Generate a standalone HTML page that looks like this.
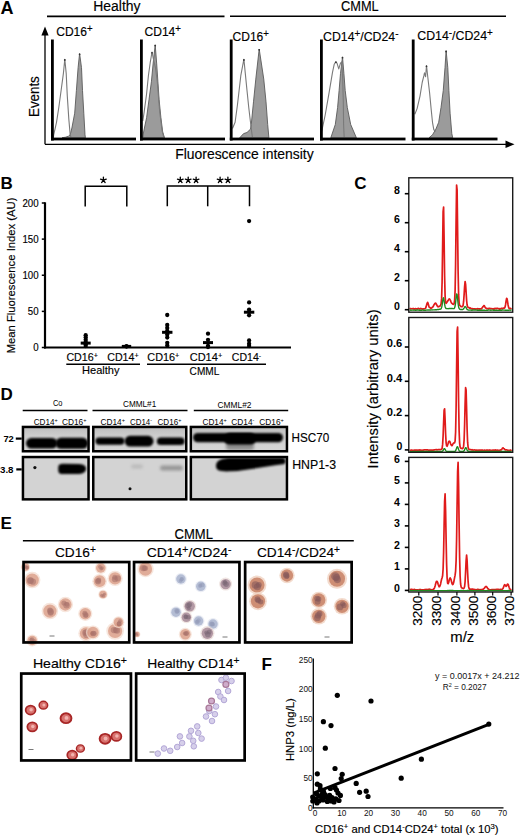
<!DOCTYPE html>
<html><head><meta charset="utf-8"><style>
html,body{margin:0;padding:0;background:#fff;width:520px;height:837px;overflow:hidden}
svg{display:block;font-family:"Liberation Sans", sans-serif}
svg text{stroke:#000;stroke-width:0.15px}
svg text.s{stroke:none}
</style></head><body>
<svg width="520" height="837" viewBox="0 0 520 837">
<defs>
<linearGradient id="gH" x1="0" y1="0" x2="0" y2="1"><stop offset="0" stop-color="#bdbdbd"/><stop offset="0.35" stop-color="#cdcdcd"/><stop offset="1" stop-color="#d6d6d6"/></linearGradient>
<filter id="b0" x="-50%" y="-50%" width="200%" height="200%"><feGaussianBlur stdDeviation="0.45"/></filter>
<filter id="b1" x="-20%" y="-50%" width="140%" height="200%"><feGaussianBlur stdDeviation="0.9"/></filter>
<filter id="b2" x="-20%" y="-50%" width="140%" height="200%"><feGaussianBlur stdDeviation="1.8"/></filter>
<radialGradient id="gC"><stop offset="0" stop-color="#9a6252"/><stop offset="0.45" stop-color="#bd806a"/><stop offset="0.8" stop-color="#dcaa90"/><stop offset="1" stop-color="#f2d8c8" stop-opacity="0.3"/></radialGradient>
<radialGradient id="gBl"><stop offset="0" stop-color="#8d98bb"/><stop offset="0.7" stop-color="#aab4cf"/><stop offset="1" stop-color="#d8dde9" stop-opacity="0.3"/></radialGradient>
<radialGradient id="gP"><stop offset="0" stop-color="#6e5a72"/><stop offset="0.6" stop-color="#95788a"/><stop offset="1" stop-color="#c8a898" stop-opacity="0.4"/></radialGradient>
<radialGradient id="gR"><stop offset="0" stop-color="#e8a0a0"/><stop offset="0.55" stop-color="#d06060"/><stop offset="0.85" stop-color="#b02a2a"/><stop offset="1" stop-color="#c04040" stop-opacity="0.4"/></radialGradient>
<radialGradient id="gL"><stop offset="0" stop-color="#d4cce8"/><stop offset="0.7" stop-color="#bcb0dc"/><stop offset="1" stop-color="#d8d0ec" stop-opacity="0.3"/></radialGradient>
<radialGradient id="gM"><stop offset="0" stop-color="#b06890"/><stop offset="0.7" stop-color="#a05880"/><stop offset="1" stop-color="#c8a0c0" stop-opacity="0.3"/></radialGradient>
</defs>
<text x="0.4" y="13.8" font-size="18" font-weight="bold" class="s" text-anchor="start" fill="#000" >A</text>
<text x="93.2" y="11" font-size="14" text-anchor="start" fill="#000" textLength="47.3" lengthAdjust="spacingAndGlyphs" >Healthy</text>
<line x1="47" y1="16.4" x2="224.5" y2="16.4" stroke="#000" stroke-width="1.6" />
<line x1="230" y1="16.2" x2="506" y2="16.2" stroke="#000" stroke-width="1.6" />
<text x="341" y="10.6" font-size="14" text-anchor="start" fill="#000" textLength="37.7" lengthAdjust="spacingAndGlyphs" >CMML</text>
<line x1="45" y1="34" x2="45" y2="144.3" stroke="#000" stroke-width="1.3" />
<polygon points="41.4,35.5 48.6,35.5 45,26.6" fill="#000"/>
<line x1="45" y1="144.3" x2="507" y2="144.3" stroke="#000" stroke-width="1.3" />
<polygon points="505.5,140.6 505.5,148 514.5,144.3" fill="#000"/>
<text transform="translate(39.3,117) rotate(-90)" x="0" y="0" font-size="14" text-anchor="start" fill="#000" textLength="40.8" lengthAdjust="spacingAndGlyphs" >Events</text>
<text x="175.2" y="159.3" font-size="14" text-anchor="start" fill="#000" textLength="138.5" lengthAdjust="spacingAndGlyphs" >Fluorescence intensity</text>
<path d="M62,137.8 65.6,137.2 68.5,136.2 70.2,134.8 71.9,128 74.7,113.2 76.4,90.5 78.1,67.7 79.6,53.5 81.5,67.7 82.5,90.5 83.8,113.2 85,134.8 85.4,137.8 Z" fill="#9b9b9b" stroke="#5a5a5a" stroke-width="0.9" stroke-linejoin="round"/>
<path d="M53.4,137.8 53.7,134.8 56.5,122.3 58.8,107.5 61.1,90.5 63.4,73.4 64.8,59.2 66.2,73.4 67.3,96.1 68.8,118.9 70.2,134.8 71.2,137.8" fill="none" stroke="#7a7a7a" stroke-width="1.1" stroke-linejoin="round"/>
<circle cx="79.6" cy="54.3" r="0.9" fill="#333" />
<circle cx="64.8" cy="60" r="0.9" fill="#333" />
<rect x="51" y="39.5" width="2.8" height="101" fill="#000" stroke="none" stroke-width="0" />
<rect x="51" y="137.6" width="85" height="2.8" fill="#000" stroke="none" stroke-width="0" />
<text x="56.2" y="35.6" font-size="12.5" textLength="36.4" lengthAdjust="spacingAndGlyphs">CD16<tspan font-size="10" baseline-shift="4.2">+</tspan></text>
<path d="M142.8,137.8 143.6,132 146.6,117.7 149,99.7 151.4,81.8 153.1,63.9 155.2,44.8 156.7,63.9 157.9,81.8 159.1,99.7 160.9,117.7 162.7,132 164.5,137.8 Z" fill="#9b9b9b" stroke="#5a5a5a" stroke-width="0.9" stroke-linejoin="round"/>
<path d="M142.8,121 144.2,111.7 146.6,93.8 148.4,75.8 150.2,62.7 151,58 152,52 153.7,60.3 155.5,68 157.3,81.8 159.7,111.7 162.1,130.8 164,137.8" fill="none" stroke="#7a7a7a" stroke-width="1.1" stroke-linejoin="round"/>
<circle cx="155.2" cy="45.6" r="0.9" fill="#333" />
<circle cx="152" cy="52.8" r="0.9" fill="#333" />
<rect x="140" y="39.5" width="2.8" height="101" fill="#000" stroke="none" stroke-width="0" />
<rect x="140" y="137.6" width="85" height="2.8" fill="#000" stroke="none" stroke-width="0" />
<text x="144.5" y="36" font-size="12.5" textLength="36.4" lengthAdjust="spacingAndGlyphs">CD14<tspan font-size="10" baseline-shift="4.2">+</tspan></text>
<path d="M239.7,137.8 243.6,133.6 247,132.5 250.5,129.1 251.25,124.5 253.5,101.8 255.8,79.1 259.2,49 263.75,79.1 266,101.8 267.7,124.5 268.9,137.8 Z" fill="#9b9b9b" stroke="#5a5a5a" stroke-width="0.9" stroke-linejoin="round"/>
<path d="M232.5,128.5 235.1,122.3 237.4,105.2 239.1,90.5 240.8,75.7 243.9,59.2 245.3,73.4 247,90.5 248.75,107.5 250.5,122.3 251.6,131.4 252.5,137.8" fill="none" stroke="#7a7a7a" stroke-width="1.1" stroke-linejoin="round"/>
<circle cx="259.2" cy="49.8" r="0.9" fill="#333" />
<circle cx="243.9" cy="60" r="0.9" fill="#333" />
<rect x="229.8" y="39.5" width="2.8" height="101" fill="#000" stroke="none" stroke-width="0" />
<rect x="229.8" y="137.6" width="84.2" height="2.8" fill="#000" stroke="none" stroke-width="0" />
<text x="232.5" y="40.6" font-size="12.5" textLength="36.4" lengthAdjust="spacingAndGlyphs">CD16<tspan font-size="10" baseline-shift="4.2">+</tspan></text>
<path d="M330.8,137.8 335.3,124.5 337.6,107.5 339.1,90.5 340.5,73.4 342.5,56.9 343.9,73.4 345.2,90.5 347.3,107.5 350.7,124.5 356.4,137.8 Z" fill="#9b9b9b" stroke="#5a5a5a" stroke-width="0.9" stroke-linejoin="round"/>
<path d="M321.7,131.4 325.1,115.5 329.1,92.7 332.5,72.3 334.2,64.3 335.9,61.5 337,63.2 338.75,68.9 340.5,63.2 341.8,62 342.7,79.1 343.3,101.8 343.6,124.5 344.1,136 344.3,137.8" fill="none" stroke="#7a7a7a" stroke-width="1.1" stroke-linejoin="round"/>
<circle cx="342.5" cy="57.7" r="0.9" fill="#333" />
<circle cx="335.9" cy="62.3" r="0.9" fill="#333" />
<rect x="320" y="39.5" width="2.8" height="101" fill="#000" stroke="none" stroke-width="0" />
<rect x="320" y="137.6" width="85.5" height="2.8" fill="#000" stroke="none" stroke-width="0" />
<text x="323" y="40.6" font-size="12.5" textLength="75.5" lengthAdjust="spacingAndGlyphs">CD14<tspan font-size="10" baseline-shift="4.2">+</tspan>/CD24<tspan font-size="10" baseline-shift="4.2">-</tspan></text>
<path d="M429,137.8 432.5,134.8 435.9,129.1 438.7,122.3 441,107.5 443.25,90.5 445,67.7 446.1,50.7 447.8,67.7 448.9,90.5 450.1,113.2 451.8,133.6 452.7,137.8 Z" fill="#9b9b9b" stroke="#5a5a5a" stroke-width="0.9" stroke-linejoin="round"/>
<path d="M414.8,114.3 417.1,108.6 420,96.1 422.2,82.5 423.9,75.7 424.5,72.8 425.6,76.8 426.5,65.5 427.9,78 429.6,92.7 431.1,108.6 432.5,122.3 433.8,129.7 435.9,131.4" fill="none" stroke="#7a7a7a" stroke-width="1.1" stroke-linejoin="round"/>
<circle cx="446.1" cy="51.5" r="0.9" fill="#333" />
<circle cx="426.5" cy="66.3" r="0.9" fill="#333" />
<rect x="411.8" y="39.5" width="2.8" height="101" fill="#000" stroke="none" stroke-width="0" />
<rect x="411.8" y="137.6" width="85.7" height="2.8" fill="#000" stroke="none" stroke-width="0" />
<text x="417.3" y="39.8" font-size="12.5" textLength="75.5" lengthAdjust="spacingAndGlyphs">CD14<tspan font-size="10" baseline-shift="4.2">-</tspan>/CD24<tspan font-size="10" baseline-shift="4.2">+</tspan></text>
<text x="0.4" y="188.9" font-size="17" font-weight="bold" class="s" text-anchor="start" fill="#000" >B</text>
<line x1="45" y1="202.3" x2="45" y2="348.5" stroke="#000" stroke-width="2.2" />
<line x1="41.8" y1="347.5" x2="45" y2="347.5" stroke="#000" stroke-width="1.5" />
<text x="38.6" y="351.4" font-size="11" text-anchor="end" fill="#000" textLength="5.4" lengthAdjust="spacingAndGlyphs" >0</text>
<line x1="41.8" y1="311.38" x2="45" y2="311.38" stroke="#000" stroke-width="1.5" />
<text x="38.6" y="315.27" font-size="11" text-anchor="end" fill="#000" textLength="10.8" lengthAdjust="spacingAndGlyphs" >50</text>
<line x1="41.8" y1="275.25" x2="45" y2="275.25" stroke="#000" stroke-width="1.5" />
<text x="38.6" y="279.15" font-size="11" text-anchor="end" fill="#000" textLength="16.2" lengthAdjust="spacingAndGlyphs" >100</text>
<line x1="41.8" y1="239.12" x2="45" y2="239.12" stroke="#000" stroke-width="1.5" />
<text x="38.6" y="243.03" font-size="11" text-anchor="end" fill="#000" textLength="16.2" lengthAdjust="spacingAndGlyphs" >150</text>
<line x1="41.8" y1="203" x2="45" y2="203" stroke="#000" stroke-width="1.5" />
<text x="38.6" y="206.9" font-size="11" text-anchor="end" fill="#000" textLength="16.2" lengthAdjust="spacingAndGlyphs" >200</text>
<text transform="translate(15.4,353.3) rotate(-90)" x="0" y="0" font-size="11.2" text-anchor="start" fill="#000" textLength="155.7" lengthAdjust="spacingAndGlyphs" >Mean Fluorescence Index (AU)</text>
<line x1="44" y1="347.5" x2="291" y2="347.5" stroke="#000" stroke-width="2.2" />
<polyline points="85.2,206.5 85.2,186.2 126.8,186.2 126.8,206.5" fill="none" stroke="#000" stroke-width="1.5"/>
<polyline points="167.3,206.3 167.3,186 249.5,186 249.5,206.3" fill="none" stroke="#000" stroke-width="1.5"/>
<line x1="207.7" y1="186" x2="207.7" y2="206.3" stroke="#000" stroke-width="1.5" />
<path d="M103.4,180.1 L103.4,177.1 M103.4,180.1 L106.25,179.17 M103.4,180.1 L105.16,182.53 M103.4,180.1 L101.64,182.53 M103.4,180.1 L100.55,179.17 " stroke="#000" stroke-width="1.3" stroke-linecap="round" fill="none"/>
<path d="M180.3,180.1 L180.3,177.1 M180.3,180.1 L183.15,179.17 M180.3,180.1 L182.06,182.53 M180.3,180.1 L178.54,182.53 M180.3,180.1 L177.45,179.17 " stroke="#000" stroke-width="1.3" stroke-linecap="round" fill="none"/>
<path d="M188.2,180.1 L188.2,177.1 M188.2,180.1 L191.05,179.17 M188.2,180.1 L189.96,182.53 M188.2,180.1 L186.44,182.53 M188.2,180.1 L185.35,179.17 " stroke="#000" stroke-width="1.3" stroke-linecap="round" fill="none"/>
<path d="M196.1,180.1 L196.1,177.1 M196.1,180.1 L198.95,179.17 M196.1,180.1 L197.86,182.53 M196.1,180.1 L194.34,182.53 M196.1,180.1 L193.25,179.17 " stroke="#000" stroke-width="1.3" stroke-linecap="round" fill="none"/>
<path d="M220.1,180.1 L220.1,177.1 M220.1,180.1 L222.95,179.17 M220.1,180.1 L221.86,182.53 M220.1,180.1 L218.34,182.53 M220.1,180.1 L217.25,179.17 " stroke="#000" stroke-width="1.3" stroke-linecap="round" fill="none"/>
<path d="M227.9,180.1 L227.9,177.1 M227.9,180.1 L230.75,179.17 M227.9,180.1 L229.66,182.53 M227.9,180.1 L226.14,182.53 M227.9,180.1 L225.05,179.17 " stroke="#000" stroke-width="1.3" stroke-linecap="round" fill="none"/>
<circle cx="85.7" cy="335.2" r="2.15" fill="#000" />
<circle cx="85.7" cy="337.5" r="2.15" fill="#000" />
<circle cx="85.7" cy="339.8" r="2.15" fill="#000" />
<circle cx="85.7" cy="342" r="2.15" fill="#000" />
<circle cx="85.7" cy="344.2" r="2.15" fill="#000" />
<circle cx="85.7" cy="346" r="2.15" fill="#000" />
<line x1="80.7" y1="343.1" x2="90.7" y2="343.1" stroke="#000" stroke-width="3" />
<circle cx="126.5" cy="346.2" r="2.15" fill="#000" />
<circle cx="126.5" cy="346.6" r="2.15" fill="#000" />
<line x1="121.8" y1="346.4" x2="131.2" y2="346.4" stroke="#000" stroke-width="3" />
<circle cx="167.25" cy="315" r="2.15" fill="#000" />
<circle cx="167.25" cy="325" r="2.15" fill="#000" />
<circle cx="167.25" cy="328" r="2.15" fill="#000" />
<circle cx="167.25" cy="331" r="2.15" fill="#000" />
<circle cx="167.25" cy="334.5" r="2.15" fill="#000" />
<circle cx="167.25" cy="337.5" r="2.15" fill="#000" />
<circle cx="167.25" cy="342.8" r="2.15" fill="#000" />
<circle cx="167.25" cy="345.5" r="2.15" fill="#000" />
<line x1="162.05" y1="332.3" x2="172.45" y2="332.3" stroke="#000" stroke-width="3" />
<circle cx="208" cy="333.7" r="2.15" fill="#000" />
<circle cx="208" cy="339.8" r="2.15" fill="#000" />
<circle cx="208" cy="345.8" r="2.15" fill="#000" />
<circle cx="208" cy="347" r="2.15" fill="#000" />
<line x1="203" y1="342.6" x2="213" y2="342.6" stroke="#000" stroke-width="3" />
<circle cx="249.1" cy="221.1" r="2.15" fill="#000" />
<circle cx="249.1" cy="302.4" r="2.15" fill="#000" />
<circle cx="249.1" cy="309.6" r="2.15" fill="#000" />
<circle cx="249.1" cy="312" r="2.15" fill="#000" />
<circle cx="249.1" cy="315.3" r="2.15" fill="#000" />
<circle cx="249.1" cy="340.5" r="2.15" fill="#000" />
<circle cx="249.1" cy="343.7" r="2.15" fill="#000" />
<circle cx="249.1" cy="346" r="2.15" fill="#000" />
<line x1="243.9" y1="312.2" x2="254.3" y2="312.2" stroke="#000" stroke-width="3" />
<text x="66.4" y="360.6" font-size="11.2" textLength="31.5" lengthAdjust="spacingAndGlyphs">CD16<tspan font-size="7.5" baseline-shift="2.6">+</tspan></text>
<text x="107.2" y="360.6" font-size="11.2" textLength="31.5" lengthAdjust="spacingAndGlyphs">CD14<tspan font-size="7.5" baseline-shift="2.6">+</tspan></text>
<text x="147.3" y="360.6" font-size="11.2" textLength="32" lengthAdjust="spacingAndGlyphs">CD16<tspan font-size="7.5" baseline-shift="2.6">+</tspan></text>
<text x="189.7" y="360.6" font-size="11.2" textLength="32.5" lengthAdjust="spacingAndGlyphs">CD14<tspan font-size="7.5" baseline-shift="2.6">+</tspan></text>
<text x="231.8" y="360.6" font-size="11.2" textLength="29.3" lengthAdjust="spacingAndGlyphs">CD14<tspan font-size="7.5" baseline-shift="2.6">-</tspan></text>
<line x1="66.3" y1="364.3" x2="140" y2="364.3" stroke="#000" stroke-width="1.4" />
<line x1="147" y1="364.3" x2="266" y2="364.3" stroke="#000" stroke-width="1.4" />
<text x="82" y="374.4" font-size="11.5" text-anchor="start" fill="#000" textLength="37.5" lengthAdjust="spacingAndGlyphs" >Healthy</text>
<text x="189.6" y="374.6" font-size="11.5" text-anchor="start" fill="#000" textLength="29.7" lengthAdjust="spacingAndGlyphs" >CMML</text>
<text x="354.2" y="188.8" font-size="17" font-weight="bold" class="s" text-anchor="start" fill="#000" >C</text>
<path d="M409.6,309.01 410.1,308.65 410.6,308.5 411.1,308.77 411.6,308.76 412.1,308.78 412.6,308.65 413.1,308.48 413.6,308.87 414.1,309.15 414.6,308.74 415.1,308.78 415.6,308.56 416.1,308.98 416.6,308.91 417.1,308.67 417.6,308.87 418.1,308.48 418.6,308.27 419.1,308.77 419.6,309.07 420.1,308.88 420.6,308.47 421.1,308.62 421.6,308.83 422.1,308.79 422.6,309.05 423.1,309.05 423.6,308.89 424.1,308.73 424.6,308.77 425.1,308.66 425.6,308.19 426.1,306.86 426.6,305 427.1,303.33 427.6,302.28 428.1,303.4 428.6,305.27 429.1,307.12 429.6,307.52 430.1,307.64 430.6,308.12 431.1,308.2 431.6,307.9 432.1,307.61 432.6,307.06 433.1,306.73 433.6,305.7 434.1,304.62 434.6,303.85 435.1,303.22 435.6,303.11 436.1,303.71 436.6,304.81 437.1,305.64 437.6,306.54 438.1,306.83 438.6,306.48 439.1,306.4 439.6,306.39 440.1,305.92 440.6,305.21 441.1,303.74 441.6,298.63 442.1,281.92 442.6,247.89 443.1,211.49 443.6,207.09 444.1,239.48 444.6,275.84 445.1,295.97 445.6,302.55 446.1,303.37 446.6,302.74 447.1,302.07 447.6,301.29 448.1,300.55 448.6,299.66 449.1,298.89 449.6,299.01 450.1,299.83 450.6,300.69 451.1,302.12 451.6,303.08 452.1,303.47 452.6,303.98 453.1,304.28 453.6,304.39 454.1,303.66 454.6,300.52 455.1,290.78 455.6,264.06 456.1,220.78 456.6,184.98 457.1,189.79 457.6,230.08 458.1,271.27 458.6,294.17 459.1,302.6 459.6,305.28 460.1,305.66 460.6,306.05 461.1,306.57 461.6,306.68 462.1,306.72 462.6,306.53 463.1,305.34 463.6,301.74 464.1,294.9 464.6,286.48 465.1,281.5 465.6,284.3 466.1,292.27 466.6,300.3 467.1,304.99 467.6,306.81 468.1,307.4 468.6,307.57 469.1,307.63 469.6,308.08 470.1,307.95 470.6,308 471.1,308.48 471.6,308.82 472.1,309.04 472.6,308.65 473.1,308.79 473.6,308.98 474.1,308.73 474.6,308.78 475.1,309.02 475.6,309.1 476.1,308.89 476.6,309.02 477.1,309.03 477.6,308.72 478.1,308.72 478.6,308.82 479.1,308.77 479.6,309.05 480.1,308.95 480.6,308.84 481.1,308.85 481.6,308.74 482.1,307.82 482.6,307.17 483.1,306.66 483.6,305.93 484.1,305.53 484.6,306.3 485.1,307.23 485.6,308.01 486.1,308.19 486.6,308.72 487.1,308.62 487.6,308.55 488.1,308.59 488.6,308.84 489.1,308.45 489.6,308.34 490.1,308.48 490.6,308.78 491.1,308.65 491.6,308.76 492.1,308.69 492.6,308.84 493.1,308.7 493.6,309.03 494.1,309.06 494.6,308.59 495.1,308.38 495.6,308.66 496.1,308.43 496.6,308.69 497.1,308.39 497.6,308.35 498.1,308.57 498.6,308.81 499.1,309.13 499.6,308.69 500.1,309.04 500.6,308.68 501.1,308.35 501.6,308.44 502.1,308.77 502.6,308.45 503.1,308.17 503.6,308.17 504.1,308.19 504.6,307.93 505.1,306.82 505.6,304.48 506.1,300.82 506.6,298.3 507.1,298.82 507.6,301.93 508.1,304.99 508.6,307.34 509.1,308.28 509.6,308.72 510.1,308.48 510.6,308.29 511.1,308.81 511.6,308.99" fill="none" stroke="#e01b1b" stroke-width="1.7" stroke-linejoin="round"/>
<path d="M409.6,310.08 410.1,310.01 410.6,310.19 411.1,310.29 411.6,310.16 412.1,310.12 412.6,310.1 413.1,310.18 413.6,310.16 414.1,310.14 414.6,310.14 415.1,310.24 415.6,310.23 416.1,310.24 416.6,310.16 417.1,310.05 417.6,309.99 418.1,310.05 418.6,310.12 419.1,310.2 419.6,310.3 420.1,310.36 420.6,310.29 421.1,310.29 421.6,310.27 422.1,310.13 422.6,310.14 423.1,310.13 423.6,310.21 424.1,310.3 424.6,310.28 425.1,310.32 425.6,310.25 426.1,310.08 426.6,310.06 427.1,310.17 427.6,310.05 428.1,310.01 428.6,309.99 429.1,309.93 429.6,309.93 430.1,309.92 430.6,310.01 431.1,309.9 431.6,309.84 432.1,309.99 432.6,309.92 433.1,309.88 433.6,309.91 434.1,309.9 434.6,309.89 435.1,309.76 435.6,309.77 436.1,309.68 436.6,309.72 437.1,309.6 437.6,309.5 438.1,309.52 438.6,309.48 439.1,309.35 439.6,309.27 440.1,309.23 440.6,309.16 441.1,308.76 441.6,307.52 442.1,305.15 442.6,301.39 443.1,298.3 443.6,297.8 444.1,300.54 444.6,304.04 445.1,306.68 445.6,308 446.1,308.47 446.6,308.56 447.1,308.58 447.6,308.64 448.1,308.7 448.6,308.66 449.1,308.53 449.6,308.53 450.1,308.66 450.6,308.56 451.1,308.52 451.6,308.46 452.1,308.6 452.6,308.55 453.1,308.68 453.6,308.58 454.1,308.48 454.6,307.91 455.1,306.04 455.6,302.57 456.1,297.65 456.6,293.94 457.1,294.54 457.6,298.85 458.1,303.6 458.6,306.92 459.1,308.42 459.6,309.13 460.1,309.34 460.6,309.49 461.1,309.47 461.6,309.62 462.1,309.49 462.6,309.57 463.1,309.26 463.6,308.86 464.1,308.01 464.6,306.93 465.1,306.48 465.6,306.81 466.1,307.63 466.6,308.66 467.1,309.49 467.6,309.71 468.1,309.98 468.6,310.13 469.1,310.15 469.6,310.09 470.1,310.03 470.6,310.15 471.1,310.17 471.6,310.26 472.1,310.22 472.6,310.12 473.1,310.07 473.6,310 474.1,310 474.6,309.97 475.1,310 475.6,310.07 476.1,310.17 476.6,310.13 477.1,310.19 477.6,310.27 478.1,310.24 478.6,310.12 479.1,310.23 479.6,310.19 480.1,310.21 480.6,310.19 481.1,310.27 481.6,310.12 482.1,310.2 482.6,310.17 483.1,310.19 483.6,310.3 484.1,310.24 484.6,310.3 485.1,310.36 485.6,310.4 486.1,310.39 486.6,310.41 487.1,310.28 487.6,310.24 488.1,310.1 488.6,310.03 489.1,309.97 489.6,310.12 490.1,310.16 490.6,310.23 491.1,310.19 491.6,310.16 492.1,310.1 492.6,310.08 493.1,310.18 493.6,310.2 494.1,310.19 494.6,310.31 495.1,310.37 495.6,310.32 496.1,310.36 496.6,310.24 497.1,310.28 497.6,310.34 498.1,310.36 498.6,310.35 499.1,310.36 499.6,310.28 500.1,310.26 500.6,310.28 501.1,310.21 501.6,310.27 502.1,310.14 502.6,310.05 503.1,310.05 503.6,310.12 504.1,310.15 504.6,310.15 505.1,310.27 505.6,310.26 506.1,310.23 506.6,310.29 507.1,310.35 507.6,310.21 508.1,310.24 508.6,310.21 509.1,310.11 509.6,310.11 510.1,310.2 510.6,310.08 511.1,310.16 511.6,310.29" fill="none" stroke="#1f8a1f" stroke-width="1.4" stroke-linejoin="round"/>
<path d="M409.6,450.31 410.1,450.23 410.6,450.27 411.1,450.19 411.6,450.12 412.1,450.35 412.6,450.52 413.1,450.22 413.6,450.32 414.1,450.39 414.6,450.06 415.1,450.12 415.6,449.98 416.1,450.07 416.6,450.04 417.1,450.26 417.6,450.16 418.1,449.99 418.6,450.05 419.1,449.98 419.6,449.97 420.1,450.26 420.6,450.1 421.1,450.08 421.6,450.21 422.1,450.41 422.6,450.14 423.1,450.16 423.6,450.05 424.1,449.91 424.6,449.9 425.1,449.8 425.6,449.99 426.1,449.91 426.6,450.03 427.1,449.86 427.6,449.79 428.1,450.12 428.6,450.3 429.1,450.37 429.6,450.05 430.1,450.11 430.6,450.05 431.1,450.17 431.6,450.14 432.1,450.18 432.6,450.22 433.1,450.12 433.6,450.06 434.1,449.87 434.6,449.86 435.1,449.73 435.6,449.68 436.1,449.58 436.6,449.66 437.1,449.95 437.6,449.77 438.1,449.61 438.6,449.52 439.1,449.61 439.6,449.56 440.1,449.74 440.6,449.5 441.1,449.38 441.6,449.22 442.1,448.34 442.6,444.64 443.1,436.08 443.6,422.84 444.1,410.2 444.6,408.82 445.1,419.84 445.6,433.69 446.1,442.55 446.6,445.8 447.1,446.23 447.6,444.9 448.1,443.46 448.6,441.82 449.1,441.16 449.6,441.23 450.1,442.19 450.6,443.78 451.1,444.83 451.6,445.58 452.1,445.53 452.6,444.51 453.1,443.65 453.6,442.99 454.1,442.84 454.6,442.8 455.1,441.12 455.6,432.28 456.1,408.05 456.6,368.35 457.1,331.25 457.6,327.03 458.1,359.97 458.6,401.96 459.1,430.33 459.6,442.82 460.1,446.84 460.6,447.99 461.1,448.36 461.6,448.37 462.1,448.54 462.6,448.55 463.1,447.98 463.6,446.19 464.1,439.96 464.6,425.33 465.1,404.14 465.6,387.58 466.1,390.03 466.6,408.89 467.1,429.32 467.6,442.17 468.1,447.22 468.6,448.74 469.1,449.44 469.6,449.51 470.1,449.64 470.6,449.63 471.1,449.8 471.6,449.74 472.1,449.71 472.6,450.04 473.1,450.23 473.6,450.05 474.1,449.81 474.6,450.02 475.1,450.05 475.6,450.01 476.1,450.12 476.6,450.16 477.1,450.22 477.6,450.23 478.1,450.13 478.6,450.21 479.1,450.23 479.6,450.05 480.1,450.3 480.6,450.2 481.1,450.05 481.6,450.17 482.1,450.29 482.6,450.08 483.1,450.23 483.6,450.34 484.1,450.29 484.6,450.14 485.1,450.33 485.6,450.34 486.1,450.35 486.6,450.11 487.1,450.15 487.6,449.98 488.1,450.21 488.6,450.27 489.1,450.15 489.6,449.97 490.1,450.07 490.6,450.24 491.1,450.39 491.6,450.28 492.1,450.38 492.6,450.15 493.1,449.99 493.6,450.21 494.1,450.3 494.6,450.1 495.1,450.06 495.6,449.95 496.1,450.11 496.6,450.31 497.1,450.35 497.6,450.13 498.1,450.25 498.6,450.29 499.1,450.27 499.6,450.25 500.1,450.22 500.6,449.89 501.1,449.9 501.6,449.7 502.1,448.8 502.6,448.13 503.1,447.83 503.6,448.33 504.1,448.75 504.6,449.2 505.1,449.81 505.6,449.89 506.1,449.86 506.6,449.91 507.1,450.01 507.6,450.18 508.1,450.25 508.6,450.35 509.1,450.49 509.6,450.32 510.1,450.37 510.6,450.14 511.1,450.38 511.6,450.11" fill="none" stroke="#e01b1b" stroke-width="1.7" stroke-linejoin="round"/>
<path d="M409.6,451.54 410.1,451.59 410.6,451.57 411.1,451.6 411.6,451.63 412.1,451.59 412.6,451.49 413.1,451.44 413.6,451.42 414.1,451.5 414.6,451.49 415.1,451.53 415.6,451.57 416.1,451.6 416.6,451.61 417.1,451.5 417.6,451.44 418.1,451.42 418.6,451.4 419.1,451.49 419.6,451.52 420.1,451.49 420.6,451.46 421.1,451.42 421.6,451.39 422.1,451.5 422.6,451.48 423.1,451.46 423.6,451.47 424.1,451.54 424.6,451.52 425.1,451.58 425.6,451.48 426.1,451.43 426.6,451.45 427.1,451.5 427.6,451.43 428.1,451.45 428.6,451.41 429.1,451.39 429.6,451.43 430.1,451.47 430.6,451.46 431.1,451.49 431.6,451.54 432.1,451.56 432.6,451.48 433.1,451.56 433.6,451.61 434.1,451.54 434.6,451.56 435.1,451.52 435.6,451.52 436.1,451.53 436.6,451.43 437.1,451.5 437.6,451.51 438.1,451.55 438.6,451.5 439.1,451.53 439.6,451.53 440.1,451.46 440.6,451.49 441.1,451.46 441.6,451.36 442.1,451.35 442.6,451.12 443.1,450.5 443.6,449.49 444.1,448.65 444.6,448.6 445.1,449.33 445.6,450.31 446.1,450.99 446.6,451.39 447.1,451.44 447.6,451.4 448.1,451.36 448.6,451.36 449.1,451.33 449.6,451.46 450.1,451.5 450.6,451.41 451.1,451.39 451.6,451.43 452.1,451.37 452.6,451.38 453.1,451.35 453.6,451.41 454.1,451.45 454.6,451.4 455.1,451.27 455.6,450.78 456.1,449.64 456.6,448.12 457.1,446.85 457.6,446.73 458.1,447.92 458.6,449.41 459.1,450.59 459.6,451.18 460.1,451.43 460.6,451.38 461.1,451.42 461.6,451.47 462.1,451.52 462.6,451.54 463.1,451.49 463.6,451.25 464.1,450.82 464.6,449.93 465.1,448.61 465.6,447.67 466.1,447.68 466.6,448.83 467.1,450.06 467.6,450.84 468.1,451.25 468.6,451.31 469.1,451.39 469.6,451.47 470.1,451.48 470.6,451.56 471.1,451.54 471.6,451.56 472.1,451.46 472.6,451.42 473.1,451.45 473.6,451.54 474.1,451.56 474.6,451.57 475.1,451.59 475.6,451.59 476.1,451.49 476.6,451.55 477.1,451.6 477.6,451.49 478.1,451.48 478.6,451.41 479.1,451.46 479.6,451.41 480.1,451.42 480.6,451.4 481.1,451.4 481.6,451.44 482.1,451.53 482.6,451.56 483.1,451.48 483.6,451.42 484.1,451.38 484.6,451.45 485.1,451.45 485.6,451.42 486.1,451.43 486.6,451.41 487.1,451.44 487.6,451.44 488.1,451.43 488.6,451.5 489.1,451.43 489.6,451.38 490.1,451.5 490.6,451.42 491.1,451.38 491.6,451.4 492.1,451.51 492.6,451.44 493.1,451.52 493.6,451.44 494.1,451.44 494.6,451.53 495.1,451.57 495.6,451.52 496.1,451.5 496.6,451.46 497.1,451.41 497.6,451.49 498.1,451.57 498.6,451.48 499.1,451.56 499.6,451.48 500.1,451.55 500.6,451.48 501.1,451.44 501.6,451.4 502.1,451.43 502.6,451.4 503.1,451.49 503.6,451.46 504.1,451.51 504.6,451.44 505.1,451.42 505.6,451.46 506.1,451.47 506.6,451.56 507.1,451.61 507.6,451.55 508.1,451.53 508.6,451.46 509.1,451.46 509.6,451.53 510.1,451.54 510.6,451.48 511.1,451.49 511.6,451.57" fill="none" stroke="#1f8a1f" stroke-width="1.4" stroke-linejoin="round"/>
<path d="M409.6,589.7 410.1,589.61 410.6,589.53 411.1,589.41 411.6,589.43 412.1,589.36 412.6,589.74 413.1,589.76 413.6,589.55 414.1,589.56 414.6,589.44 415.1,589.75 415.6,589.76 416.1,589.88 416.6,589.8 417.1,589.74 417.6,589.97 418.1,590.01 418.6,590.01 419.1,589.7 419.6,589.58 420.1,589.8 420.6,589.63 421.1,589.84 421.6,589.73 422.1,589.9 422.6,590.06 423.1,589.74 423.6,589.86 424.1,589.93 424.6,589.6 425.1,589.46 425.6,589.65 426.1,589.43 426.6,589.51 427.1,589.48 427.6,589.69 428.1,589.45 428.6,589.43 429.1,589.27 429.6,589.21 430.1,589.45 430.6,589.56 431.1,589.7 431.6,589.78 432.1,589.85 432.6,589.73 433.1,589.42 433.6,589.31 434.1,588.52 434.6,587.55 435.1,586.07 435.6,583.98 436.1,582.24 436.6,581.26 437.1,581.3 437.6,582.33 438.1,584.26 438.6,585.54 439.1,586.79 439.6,586.65 440.1,585.51 440.6,583.91 441.1,581.34 441.6,579.28 442.1,577.68 442.6,575.7 443.1,568.97 443.6,552.57 444.1,526.18 444.6,501.24 445.1,493.91 445.6,510.74 446.1,539.32 446.6,564.06 447.1,578.04 447.6,583.23 448.1,583.73 448.6,582.68 449.1,580.61 449.6,578.78 450.1,577.85 450.6,578.6 451.1,579.86 451.6,582.1 452.1,583.85 452.6,584.64 453.1,584.15 453.6,582.82 454.1,580.28 454.6,577.69 455.1,575.14 455.6,571.07 456.1,561.02 456.6,538.91 457.1,504.57 457.6,471.56 458.1,462.3 458.6,485.49 459.1,524.05 459.6,556.64 460.1,575.76 460.6,584 461.1,586.93 461.6,587.76 462.1,587.98 462.6,588.26 463.1,588.43 463.6,588.62 464.1,587.93 464.6,586.5 465.1,581.57 465.6,571.89 466.1,560.76 466.6,555.16 467.1,560.48 467.6,571.94 468.1,581.45 468.6,586.7 469.1,588.52 469.6,589.21 470.1,589.15 470.6,589.37 471.1,589.44 471.6,589.22 472.1,589.18 472.6,589.1 473.1,589.31 473.6,589.43 474.1,589.39 474.6,589.49 475.1,589.64 475.6,589.69 476.1,589.84 476.6,589.82 477.1,589.52 477.6,589.36 478.1,589.42 478.6,589.52 479.1,589.66 479.6,589.86 480.1,589.89 480.6,589.67 481.1,589.49 481.6,589.62 482.1,589.48 482.6,589.36 483.1,589.24 483.6,588.99 484.1,588.48 484.6,587.95 485.1,587.09 485.6,586.63 486.1,586.46 486.6,586.71 487.1,587.4 487.6,588.35 488.1,588.76 488.6,589.16 489.1,589.4 489.6,589.79 490.1,589.75 490.6,589.86 491.1,589.72 491.6,589.74 492.1,589.59 492.6,589.57 493.1,589.49 493.6,589.66 494.1,589.62 494.6,589.55 495.1,589.47 495.6,589.65 496.1,589.52 496.6,589.43 497.1,589.46 497.6,589.34 498.1,589.27 498.6,589.44 499.1,589.54 499.6,589.76 500.1,589.57 500.6,589.4 501.1,589.51 501.6,589.43 502.1,589.26 502.6,588.86 503.1,588.33 503.6,586.94 504.1,585.57 504.6,584.72 505.1,585.03 505.6,585.84 506.1,586.28 506.6,585.86 507.1,584.66 507.6,584.03 508.1,584.37 508.6,585.67 509.1,587.22 509.6,588.64 510.1,589.22 510.6,589.47 511.1,589.82 511.6,589.81" fill="none" stroke="#e01b1b" stroke-width="1.7" stroke-linejoin="round"/>
<path d="M409.6,590.56 410.1,590.54 410.6,590.57 411.1,590.61 411.6,590.66 412.1,590.62 412.6,590.62 413.1,590.58 413.6,590.6 414.1,590.57 414.6,590.61 415.1,590.57 415.6,590.55 416.1,590.58 416.6,590.58 417.1,590.57 417.6,590.62 418.1,590.6 418.6,590.57 419.1,590.61 419.6,590.57 420.1,590.56 420.6,590.53 421.1,590.58 421.6,590.64 422.1,590.59 422.6,590.56 423.1,590.58 423.6,590.64 424.1,590.66 424.6,590.62 425.1,590.64 425.6,590.57 426.1,590.57 426.6,590.62 427.1,590.59 427.6,590.61 428.1,590.56 428.6,590.52 429.1,590.55 429.6,590.55 430.1,590.55 430.6,590.53 431.1,590.5 431.6,590.6 432.1,590.62 432.6,590.6 433.1,590.62 433.6,590.6 434.1,590.65 434.6,590.58 435.1,590.59 435.6,590.64 436.1,590.6 436.6,590.62 437.1,590.65 437.6,590.63 438.1,590.66 438.6,590.67 439.1,590.6 439.6,590.58 440.1,590.64 440.6,590.59 441.1,590.65 441.6,590.65 442.1,590.58 442.6,590.58 443.1,590.61 443.6,590.62 444.1,590.63 444.6,590.66 445.1,590.58 445.6,590.64 446.1,590.63 446.6,590.59 447.1,590.61 447.6,590.55 448.1,590.6 448.6,590.54 449.1,590.52 449.6,590.53 450.1,590.51 450.6,590.55 451.1,590.53 451.6,590.52 452.1,590.55 452.6,590.57 453.1,590.56 453.6,590.59 454.1,590.64 454.6,590.6 455.1,590.63 455.6,590.62 456.1,590.58 456.6,590.62 457.1,590.67 457.6,590.69 458.1,590.64 458.6,590.64 459.1,590.65 459.6,590.64 460.1,590.57 460.6,590.61 461.1,590.62 461.6,590.57 462.1,590.57 462.6,590.61 463.1,590.61 463.6,590.61 464.1,590.65 464.6,590.64 465.1,590.65 465.6,590.59 466.1,590.62 466.6,590.59 467.1,590.54 467.6,590.51 468.1,590.56 468.6,590.56 469.1,590.6 469.6,590.61 470.1,590.61 470.6,590.57 471.1,590.53 471.6,590.58 472.1,590.65 472.6,590.64 473.1,590.67 473.6,590.7 474.1,590.63 474.6,590.66 475.1,590.61 475.6,590.62 476.1,590.56 476.6,590.53 477.1,590.61 477.6,590.64 478.1,590.57 478.6,590.57 479.1,590.59 479.6,590.56 480.1,590.54 480.6,590.56 481.1,590.58 481.6,590.64 482.1,590.64 482.6,590.67 483.1,590.62 483.6,590.6 484.1,590.64 484.6,590.61 485.1,590.65 485.6,590.68 486.1,590.63 486.6,590.62 487.1,590.57 487.6,590.56 488.1,590.55 488.6,590.62 489.1,590.57 489.6,590.63 490.1,590.61 490.6,590.55 491.1,590.52 491.6,590.51 492.1,590.55 492.6,590.55 493.1,590.53 493.6,590.6 494.1,590.55 494.6,590.52 495.1,590.56 495.6,590.54 496.1,590.57 496.6,590.61 497.1,590.58 497.6,590.64 498.1,590.59 498.6,590.54 499.1,590.59 499.6,590.54 500.1,590.61 500.6,590.57 501.1,590.61 501.6,590.55 502.1,590.58 502.6,590.54 503.1,590.62 503.6,590.66 504.1,590.6 504.6,590.58 505.1,590.59 505.6,590.65 506.1,590.67 506.6,590.66 507.1,590.69 507.6,590.59 508.1,590.56 508.6,590.52 509.1,590.53 509.6,590.58 510.1,590.64 510.6,590.59 511.1,590.64 511.6,590.62" fill="none" stroke="#1f8a1f" stroke-width="1.4" stroke-linejoin="round"/>
<rect x="408.8" y="177.8" width="103.9" height="134.4" fill="none" stroke="#1a1a1a" stroke-width="1.4" />
<rect x="408.8" y="317.5" width="103.9" height="134.8" fill="none" stroke="#1a1a1a" stroke-width="1.4" />
<rect x="408.8" y="457.4" width="103.9" height="134.6" fill="none" stroke="#1a1a1a" stroke-width="1.4" />
<line x1="404.8" y1="309.7" x2="409" y2="309.7" stroke="#000" stroke-width="1.6" />
<text x="400" y="309.9" font-size="10.3" font-weight="bold" class="s" text-anchor="end" fill="#000" textLength="5.9" lengthAdjust="spacingAndGlyphs" >0</text>
<line x1="404.8" y1="280.7" x2="409" y2="280.7" stroke="#000" stroke-width="1.6" />
<text x="400" y="280.9" font-size="10.3" font-weight="bold" class="s" text-anchor="end" fill="#000" textLength="5.9" lengthAdjust="spacingAndGlyphs" >2</text>
<line x1="404.8" y1="251.7" x2="409" y2="251.7" stroke="#000" stroke-width="1.6" />
<text x="400" y="251.9" font-size="10.3" font-weight="bold" class="s" text-anchor="end" fill="#000" textLength="5.9" lengthAdjust="spacingAndGlyphs" >4</text>
<line x1="404.8" y1="222.7" x2="409" y2="222.7" stroke="#000" stroke-width="1.6" />
<text x="400" y="222.9" font-size="10.3" font-weight="bold" class="s" text-anchor="end" fill="#000" textLength="5.9" lengthAdjust="spacingAndGlyphs" >6</text>
<line x1="404.8" y1="193.7" x2="409" y2="193.7" stroke="#000" stroke-width="1.6" />
<text x="400" y="193.9" font-size="10.3" font-weight="bold" class="s" text-anchor="end" fill="#000" textLength="5.9" lengthAdjust="spacingAndGlyphs" >8</text>
<line x1="404.8" y1="449.9" x2="409" y2="449.9" stroke="#000" stroke-width="1.6" />
<text x="402.3" y="450.1" font-size="10.3" font-weight="bold" class="s" text-anchor="end" fill="#000" textLength="5.9" lengthAdjust="spacingAndGlyphs" >0</text>
<line x1="404.8" y1="415.6" x2="409" y2="415.6" stroke="#000" stroke-width="1.6" />
<text x="402.3" y="415.8" font-size="10.3" font-weight="bold" class="s" text-anchor="end" fill="#000" textLength="15.5" lengthAdjust="spacingAndGlyphs" >0.2</text>
<line x1="404.8" y1="381.3" x2="409" y2="381.3" stroke="#000" stroke-width="1.6" />
<text x="402.3" y="381.5" font-size="10.3" font-weight="bold" class="s" text-anchor="end" fill="#000" textLength="15.5" lengthAdjust="spacingAndGlyphs" >0.4</text>
<line x1="404.8" y1="347" x2="409" y2="347" stroke="#000" stroke-width="1.6" />
<text x="402.3" y="347.2" font-size="10.3" font-weight="bold" class="s" text-anchor="end" fill="#000" textLength="15.5" lengthAdjust="spacingAndGlyphs" >0.6</text>
<line x1="404.8" y1="590.4" x2="409" y2="590.4" stroke="#000" stroke-width="1.6" />
<text x="399.8" y="591.9" font-size="10.3" font-weight="bold" class="s" text-anchor="end" fill="#000" textLength="5.9" lengthAdjust="spacingAndGlyphs" >0</text>
<line x1="404.8" y1="568.9" x2="409" y2="568.9" stroke="#000" stroke-width="1.6" />
<text x="399.8" y="570.4" font-size="10.3" font-weight="bold" class="s" text-anchor="end" fill="#000" textLength="5.9" lengthAdjust="spacingAndGlyphs" >1</text>
<line x1="404.8" y1="547.4" x2="409" y2="547.4" stroke="#000" stroke-width="1.6" />
<text x="399.8" y="548.9" font-size="10.3" font-weight="bold" class="s" text-anchor="end" fill="#000" textLength="5.9" lengthAdjust="spacingAndGlyphs" >2</text>
<line x1="404.8" y1="525.9" x2="409" y2="525.9" stroke="#000" stroke-width="1.6" />
<text x="399.8" y="527.4" font-size="10.3" font-weight="bold" class="s" text-anchor="end" fill="#000" textLength="5.9" lengthAdjust="spacingAndGlyphs" >3</text>
<line x1="404.8" y1="504.4" x2="409" y2="504.4" stroke="#000" stroke-width="1.6" />
<text x="399.8" y="505.9" font-size="10.3" font-weight="bold" class="s" text-anchor="end" fill="#000" textLength="5.9" lengthAdjust="spacingAndGlyphs" >4</text>
<line x1="404.8" y1="482.9" x2="409" y2="482.9" stroke="#000" stroke-width="1.6" />
<text x="399.8" y="484.4" font-size="10.3" font-weight="bold" class="s" text-anchor="end" fill="#000" textLength="5.9" lengthAdjust="spacingAndGlyphs" >5</text>
<line x1="404.8" y1="461.4" x2="409" y2="461.4" stroke="#000" stroke-width="1.6" />
<text x="399.8" y="462.9" font-size="10.3" font-weight="bold" class="s" text-anchor="end" fill="#000" textLength="5.9" lengthAdjust="spacingAndGlyphs" >6</text>
<text transform="translate(377.7,468.4) rotate(-90)" x="0" y="0" font-size="14" text-anchor="start" fill="#000" textLength="159" lengthAdjust="spacingAndGlyphs" >Intensity (arbitrary units)</text>
<line x1="418.8" y1="592" x2="418.8" y2="595.5" stroke="#000" stroke-width="1.2" />
<text transform="translate(422,625.8) rotate(-90)" x="0" y="0" font-size="13" text-anchor="start" fill="#000" textLength="30" lengthAdjust="spacingAndGlyphs" >3200</text>
<line x1="438" y1="592" x2="438" y2="595.5" stroke="#000" stroke-width="1.2" />
<text transform="translate(441.2,625.8) rotate(-90)" x="0" y="0" font-size="13" text-anchor="start" fill="#000" textLength="30" lengthAdjust="spacingAndGlyphs" >3300</text>
<line x1="456.9" y1="592" x2="456.9" y2="595.5" stroke="#000" stroke-width="1.2" />
<text transform="translate(460.1,625.8) rotate(-90)" x="0" y="0" font-size="13" text-anchor="start" fill="#000" textLength="30" lengthAdjust="spacingAndGlyphs" >3400</text>
<line x1="474.9" y1="592" x2="474.9" y2="595.5" stroke="#000" stroke-width="1.2" />
<text transform="translate(478.1,625.8) rotate(-90)" x="0" y="0" font-size="13" text-anchor="start" fill="#000" textLength="30" lengthAdjust="spacingAndGlyphs" >3500</text>
<line x1="492.7" y1="592" x2="492.7" y2="595.5" stroke="#000" stroke-width="1.2" />
<text transform="translate(495.9,625.8) rotate(-90)" x="0" y="0" font-size="13" text-anchor="start" fill="#000" textLength="30" lengthAdjust="spacingAndGlyphs" >3600</text>
<line x1="511.1" y1="592" x2="511.1" y2="595.5" stroke="#000" stroke-width="1.2" />
<text transform="translate(514.3,625.8) rotate(-90)" x="0" y="0" font-size="13" text-anchor="start" fill="#000" textLength="30" lengthAdjust="spacingAndGlyphs" >3700</text>
<text x="450.3" y="642" font-size="14.5" text-anchor="start" fill="#000" textLength="24" lengthAdjust="spacingAndGlyphs" >m/z</text>
<text x="0.5" y="399.8" font-size="17" font-weight="bold" class="s" text-anchor="start" fill="#000" >D</text>
<text x="52.9" y="406.2" font-size="8.3" class="s" text-anchor="start" fill="#000" textLength="9.6" lengthAdjust="spacingAndGlyphs" >Co</text>
<text x="123" y="407.4" font-size="8.3" class="s" text-anchor="start" fill="#000" textLength="33.2" lengthAdjust="spacingAndGlyphs" >CMML#1</text>
<text x="217.5" y="407.6" font-size="8.3" class="s" text-anchor="start" fill="#000" textLength="34" lengthAdjust="spacingAndGlyphs" >CMML#2</text>
<line x1="22.7" y1="410.5" x2="87.5" y2="410.5" stroke="#000" stroke-width="1.3" />
<line x1="92.5" y1="410.5" x2="187.5" y2="410.5" stroke="#000" stroke-width="1.3" />
<line x1="193.8" y1="410.5" x2="288.2" y2="410.5" stroke="#000" stroke-width="1.3" />
<text x="33.7" y="425.2" font-size="8.2" fill="#000" class="s" textLength="24" lengthAdjust="spacingAndGlyphs">CD14<tspan font-size="5.5" baseline-shift="2.8">+</tspan></text>
<text x="62" y="425.2" font-size="8.2" fill="#000" class="s" textLength="24.5" lengthAdjust="spacingAndGlyphs">CD16<tspan font-size="5.5" baseline-shift="2.8">+</tspan></text>
<text x="100.5" y="425.2" font-size="8.2" fill="#000" class="s" textLength="24.5" lengthAdjust="spacingAndGlyphs">CD14<tspan font-size="5.5" baseline-shift="2.8">+</tspan></text>
<text x="130" y="425.2" font-size="8.2" fill="#000" class="s" textLength="22" lengthAdjust="spacingAndGlyphs">CD14<tspan font-size="5.5" baseline-shift="2.8">-</tspan></text>
<text x="157.5" y="425.2" font-size="8.2" fill="#000" class="s" textLength="23.8" lengthAdjust="spacingAndGlyphs">CD16<tspan font-size="5.5" baseline-shift="2.8">+</tspan></text>
<text x="202.5" y="425.2" font-size="8.2" fill="#000" class="s" textLength="24.2" lengthAdjust="spacingAndGlyphs">CD14<tspan font-size="5.5" baseline-shift="2.8">+</tspan></text>
<text x="231.3" y="425.2" font-size="8.2" fill="#000" class="s" textLength="23.1" lengthAdjust="spacingAndGlyphs">CD14<tspan font-size="5.5" baseline-shift="2.8">-</tspan></text>
<text x="259.3" y="425.2" font-size="8.2" fill="#000" class="s" textLength="24.5" lengthAdjust="spacingAndGlyphs">CD16<tspan font-size="5.5" baseline-shift="2.8">+</tspan></text>
<rect x="22.95" y="426.95" width="65.6" height="24.3" fill="url(#gH)" stroke="none" stroke-width="0" />
<rect x="22.95" y="457.05" width="65.6" height="42.3" fill="#d3d3d3" stroke="none" stroke-width="0" />
<rect x="93.25" y="426.95" width="93" height="24.3" fill="url(#gH)" stroke="none" stroke-width="0" />
<rect x="93.25" y="457.05" width="93" height="42.3" fill="#d3d3d3" stroke="none" stroke-width="0" />
<rect x="190.85" y="426.95" width="96.1" height="24.3" fill="url(#gH)" stroke="none" stroke-width="0" />
<rect x="190.85" y="457.05" width="96.1" height="42.3" fill="#d3d3d3" stroke="none" stroke-width="0" />
<rect x="26" y="438" width="31.5" height="10.6" rx="5.3" fill="#000" filter="url(#b1)"/>
<rect x="55.5" y="437.8" width="32.7" height="11" rx="5.5" fill="#000" filter="url(#b1)"/>
<rect x="95.4" y="437.4" width="29.1" height="7.3" rx="3.65" fill="#000" filter="url(#b1)"/>
<rect x="124.6" y="435.8" width="28.9" height="10.8" rx="5.4" fill="#000" filter="url(#b1)"/>
<rect x="156.9" y="437.4" width="27.7" height="7.7" rx="3.85" fill="#000" filter="url(#b1)"/>
<rect x="226" y="440" width="28" height="10" rx="3" fill="#777" opacity="0.75" filter="url(#b2)"/>
<rect x="193" y="432.9" width="90" height="9.4" rx="4.7" fill="#000" filter="url(#b1)"/>
<rect x="224" y="433" width="32" height="11.6" rx="5.8" fill="#000" filter="url(#b1)"/>
<path d="M58.2,469 C58.2,464.2 59.5,463.8 64,463.8 L79,464 C84.5,464.3 86,466.5 86,468.8 C86,471.2 84.5,473.6 79,473.9 L64,474.1 C59.5,474.1 58.2,473.8 58.2,469 Z" fill="#000" filter="url(#b1)"/>
<circle cx="34.9" cy="467.6" r="1.6" fill="#111" />
<rect x="160" y="465.5" width="23" height="5" rx="2.5" fill="#888" opacity="0.8" filter="url(#b2)"/>
<rect x="131" y="464.5" width="12" height="4" rx="2" fill="#aaa" opacity="0.6" filter="url(#b2)"/>
<circle cx="130" cy="488.8" r="1.5" fill="#111" />
<path d="M216,466 C216,460.5 221,458 232,458 L282,457.8 C286.5,457.8 287,463.5 283,464.3 C266,466.5 246,470.5 231,471.3 C220,471.8 216,470.5 216,466 Z" fill="#000" filter="url(#b1)"/>
<rect x="22.95" y="426.95" width="65.6" height="24.3" fill="none" stroke="#000" stroke-width="2.5" />
<rect x="22.95" y="457.05" width="65.6" height="42.3" fill="none" stroke="#000" stroke-width="2.5" />
<rect x="93.25" y="426.95" width="93" height="24.3" fill="none" stroke="#000" stroke-width="2.5" />
<rect x="93.25" y="457.05" width="93" height="42.3" fill="none" stroke="#000" stroke-width="2.5" />
<rect x="190.85" y="426.95" width="96.1" height="24.3" fill="none" stroke="#000" stroke-width="2.5" />
<rect x="190.85" y="457.05" width="96.1" height="42.3" fill="none" stroke="#000" stroke-width="2.5" />
<text x="3.4" y="442.1" font-size="9.8" font-weight="bold" class="s" text-anchor="start" fill="#000" textLength="10.4" lengthAdjust="spacingAndGlyphs" >72</text>
<line x1="15.8" y1="438.6" x2="21.7" y2="438.6" stroke="#000" stroke-width="2.2" />
<text x="0" y="472.7" font-size="9.8" font-weight="bold" class="s" text-anchor="start" fill="#000" textLength="13.5" lengthAdjust="spacingAndGlyphs" >3.8</text>
<line x1="16.3" y1="469.4" x2="21.7" y2="469.4" stroke="#000" stroke-width="2.2" />
<text x="291.5" y="441.6" font-size="13" text-anchor="start" fill="#000" textLength="37.7" lengthAdjust="spacingAndGlyphs" >HSC70</text>
<text x="292.2" y="469.3" font-size="12.5" text-anchor="start" fill="#000" textLength="43.8" lengthAdjust="spacingAndGlyphs" >HNP1-3</text>
<text x="0.5" y="528.7" font-size="17" font-weight="bold" class="s" text-anchor="start" fill="#000" >E</text>
<text x="174.6" y="538.8" font-size="14" text-anchor="start" fill="#000" textLength="38.4" lengthAdjust="spacingAndGlyphs" >CMML</text>
<line x1="22.9" y1="540.8" x2="353.8" y2="540.8" stroke="#000" stroke-width="1.5" />
<text x="55" y="556.9" font-size="13.5" textLength="40.8" lengthAdjust="spacingAndGlyphs">CD16<tspan font-size="10" baseline-shift="3.8">+</tspan></text>
<text x="146.7" y="556.8" font-size="13.5" textLength="84.7" lengthAdjust="spacingAndGlyphs">CD14<tspan font-size="10" baseline-shift="3.8">+</tspan>/CD24<tspan font-size="10" baseline-shift="3.8">-</tspan></text>
<text x="257" y="556.8" font-size="13.5" textLength="83" lengthAdjust="spacingAndGlyphs">CD14<tspan font-size="10" baseline-shift="3.8">-</tspan>/CD24<tspan font-size="10" baseline-shift="3.8">+</tspan></text>
<text x="32.9" y="668.2" font-size="13.5" textLength="94.1" lengthAdjust="spacingAndGlyphs">Healthy CD16<tspan font-size="10" baseline-shift="3.8">+</tspan></text>
<text x="147.2" y="668.2" font-size="13.5" textLength="92.2" lengthAdjust="spacingAndGlyphs">Healthy CD14<tspan font-size="10" baseline-shift="3.8">+</tspan></text>
<g filter="url(#b0)" opacity="0.9"><ellipse cx="32.2" cy="580.1" rx="8.26" ry="8.26" fill="#f4dccf" opacity="0.8"/><ellipse cx="32.2" cy="580.1" rx="6.65" ry="6.65" fill="#dca08a" opacity="0.95"/><circle cx="30.41" cy="580.66" r="3.42" fill="#a2665e" opacity="0.6"/><circle cx="30.48" cy="580.48" r="3.07" fill="#a2665e" opacity="0.6"/><circle cx="32.91" cy="581.73" r="3.11" fill="#a2665e" opacity="0.6"/></g>
<g filter="url(#b0)" opacity="0.9"><ellipse cx="25.5" cy="567" rx="4.72" ry="4.72" fill="#f4dccf" opacity="0.8"/><ellipse cx="25.5" cy="567" rx="3.8" ry="3.8" fill="#dca08a" opacity="0.95"/><circle cx="25.64" cy="566.51" r="1.58" fill="#a2665e" opacity="0.6"/><circle cx="26.66" cy="567.74" r="1.82" fill="#a2665e" opacity="0.6"/><circle cx="27.02" cy="567.41" r="1.98" fill="#a2665e" opacity="0.6"/></g>
<g filter="url(#b0)" opacity="0.9"><ellipse cx="100.8" cy="568" rx="5.9" ry="5.9" fill="#f4dccf" opacity="0.8"/><ellipse cx="100.8" cy="568" rx="4.75" ry="4.75" fill="#dca08a" opacity="0.95"/><circle cx="99.99" cy="566.83" r="1.87" fill="#a2665e" opacity="0.6"/><circle cx="102.09" cy="568.12" r="1.79" fill="#a2665e" opacity="0.6"/><circle cx="101.12" cy="568.8" r="1.77" fill="#a2665e" opacity="0.6"/></g>
<g filter="url(#b0)" opacity="0.9"><ellipse cx="99.6" cy="581.2" rx="7.32" ry="7.32" fill="#f4dccf" opacity="0.8"/><ellipse cx="99.6" cy="581.2" rx="5.89" ry="5.89" fill="#dca08a" opacity="0.95"/><circle cx="98.2" cy="581.53" r="2.95" fill="#a2665e" opacity="0.6"/><circle cx="97.8" cy="580.99" r="2.63" fill="#a2665e" opacity="0.6"/><circle cx="98.83" cy="579.95" r="2.43" fill="#a2665e" opacity="0.6"/></g>
<g filter="url(#b0)" opacity="0.9"><ellipse cx="115.1" cy="578.4" rx="7.67" ry="7.67" fill="#f4dccf" opacity="0.8"/><ellipse cx="115.1" cy="578.4" rx="6.17" ry="6.17" fill="#dca08a" opacity="0.95"/><circle cx="117.69" cy="578.35" r="3.09" fill="#a2665e" opacity="0.6"/><circle cx="114.77" cy="577.18" r="2.5" fill="#a2665e" opacity="0.6"/><circle cx="114.91" cy="579.16" r="3.02" fill="#a2665e" opacity="0.6"/></g>
<g filter="url(#b0)" opacity="0.9"><ellipse cx="103" cy="594.5" rx="4.72" ry="4.72" fill="#f4dccf" opacity="0.8"/><ellipse cx="103" cy="594.5" rx="3.8" ry="3.8" fill="#dca08a" opacity="0.95"/><circle cx="101.85" cy="595.33" r="1.63" fill="#a2665e" opacity="0.6"/><circle cx="104.37" cy="594.13" r="1.4" fill="#a2665e" opacity="0.6"/><circle cx="103.37" cy="595.94" r="1.68" fill="#a2665e" opacity="0.6"/></g>
<g filter="url(#b0)" opacity="0.9"><ellipse cx="65.4" cy="604.5" rx="7.67" ry="7.67" fill="#f4dccf" opacity="0.8"/><ellipse cx="65.4" cy="604.5" rx="6.17" ry="6.17" fill="#dca08a" opacity="0.95"/><circle cx="66.81" cy="604.32" r="2.35" fill="#a2665e" opacity="0.6"/><circle cx="63.91" cy="602.93" r="2.54" fill="#a2665e" opacity="0.6"/><circle cx="66.51" cy="605.18" r="3.21" fill="#a2665e" opacity="0.6"/></g>
<g filter="url(#b0)" opacity="0.9"><ellipse cx="49.9" cy="611.1" rx="8.26" ry="8.26" fill="#f4dccf" opacity="0.8"/><ellipse cx="49.9" cy="611.1" rx="6.65" ry="6.65" fill="#dca08a" opacity="0.95"/><circle cx="49.95" cy="610.15" r="2.71" fill="#a2665e" opacity="0.6"/><circle cx="50.57" cy="611.59" r="3.29" fill="#a2665e" opacity="0.6"/><circle cx="50.72" cy="612.78" r="2.92" fill="#a2665e" opacity="0.6"/></g>
<g filter="url(#b0)" opacity="0.9"><ellipse cx="85.3" cy="613.8" rx="7.08" ry="7.08" fill="#f4dccf" opacity="0.8"/><ellipse cx="85.3" cy="613.8" rx="5.7" ry="5.7" fill="#dca08a" opacity="0.95"/><circle cx="86" cy="615.59" r="2.22" fill="#a2665e" opacity="0.6"/><circle cx="84.8" cy="613.17" r="2.48" fill="#a2665e" opacity="0.6"/><circle cx="85.55" cy="614.86" r="2.97" fill="#a2665e" opacity="0.6"/></g>
<g filter="url(#b0)" opacity="0.9"><ellipse cx="86" cy="633.5" rx="7.67" ry="7.67" fill="#f4dccf" opacity="0.8"/><ellipse cx="86" cy="633.5" rx="6.17" ry="6.17" fill="#dca08a" opacity="0.95"/><circle cx="86.41" cy="632.33" r="3.14" fill="#a2665e" opacity="0.6"/><circle cx="86.35" cy="634.88" r="3.11" fill="#a2665e" opacity="0.6"/><circle cx="85.47" cy="632.84" r="3.24" fill="#a2665e" opacity="0.6"/></g>
<g filter="url(#b0)" opacity="0.9"><ellipse cx="93" cy="632.5" rx="7.08" ry="7.08" fill="#f4dccf" opacity="0.8"/><ellipse cx="93" cy="632.5" rx="5.7" ry="5.7" fill="#dca08a" opacity="0.95"/><circle cx="93.24" cy="633.54" r="2.8" fill="#a2665e" opacity="0.6"/><circle cx="92.46" cy="633.5" r="2.17" fill="#a2665e" opacity="0.6"/><circle cx="94.39" cy="633.38" r="2.32" fill="#a2665e" opacity="0.6"/></g>
<g filter="url(#b0)" opacity="0.9"><ellipse cx="115.1" cy="631" rx="8.85" ry="8.85" fill="#f4dccf" opacity="0.8"/><ellipse cx="115.1" cy="631" rx="7.12" ry="7.12" fill="#dca08a" opacity="0.95"/><circle cx="113.82" cy="630.06" r="3.13" fill="#a2665e" opacity="0.6"/><circle cx="116.88" cy="630.53" r="3.27" fill="#a2665e" opacity="0.6"/><circle cx="115.87" cy="630.13" r="2.8" fill="#a2665e" opacity="0.6"/></g>
<g filter="url(#b0)" opacity="0.9"><ellipse cx="118.5" cy="622.2" rx="5.9" ry="5.9" fill="#f4dccf" opacity="0.8"/><ellipse cx="118.5" cy="622.2" rx="4.75" ry="4.75" fill="#dca08a" opacity="0.95"/><circle cx="119.95" cy="621.26" r="1.94" fill="#a2665e" opacity="0.6"/><circle cx="119.1" cy="623.7" r="2.46" fill="#a2665e" opacity="0.6"/><circle cx="119.14" cy="624.02" r="2.41" fill="#a2665e" opacity="0.6"/></g>
<g filter="url(#b0)" opacity="0.9"><ellipse cx="32.2" cy="640.5" rx="5.9" ry="5.9" fill="#f4dccf" opacity="0.8"/><ellipse cx="32.2" cy="640.5" rx="4.75" ry="4.75" fill="#dca08a" opacity="0.95"/><circle cx="31.3" cy="639.82" r="1.83" fill="#a2665e" opacity="0.6"/><circle cx="34.09" cy="640.97" r="1.93" fill="#a2665e" opacity="0.6"/><circle cx="31.95" cy="639.65" r="2.37" fill="#a2665e" opacity="0.6"/></g>
<g filter="url(#b0)" opacity="0.9"><ellipse cx="145.5" cy="569" rx="8.26" ry="8.26" fill="#f4dccf" opacity="0.8"/><ellipse cx="145.5" cy="569" rx="6.65" ry="6.65" fill="#dca08a" opacity="0.95"/><circle cx="144.42" cy="568.25" r="2.63" fill="#a2665e" opacity="0.6"/><circle cx="145.34" cy="568.17" r="2.69" fill="#a2665e" opacity="0.6"/><circle cx="143.18" cy="568.1" r="3.1" fill="#a2665e" opacity="0.6"/></g>
<g filter="url(#b0)" opacity="0.9"><ellipse cx="180.9" cy="579" rx="5.9" ry="5.9" fill="#e2e6f0" opacity="0.8"/><ellipse cx="180.9" cy="579" rx="4.75" ry="4.75" fill="#aab3cf" opacity="0.95"/><circle cx="180.55" cy="580.84" r="1.9" fill="#8a92b2" opacity="0.6"/><circle cx="181.8" cy="579.09" r="2.08" fill="#8a92b2" opacity="0.6"/><circle cx="181.61" cy="579.28" r="2.03" fill="#8a92b2" opacity="0.6"/></g>
<g filter="url(#b0)" opacity="0.9"><ellipse cx="200.8" cy="586.3" rx="5.9" ry="5.9" fill="#e2e6f0" opacity="0.8"/><ellipse cx="200.8" cy="586.3" rx="4.75" ry="4.75" fill="#aab3cf" opacity="0.95"/><circle cx="200.17" cy="586" r="2.02" fill="#8a92b2" opacity="0.6"/><circle cx="202.32" cy="585.05" r="2.24" fill="#8a92b2" opacity="0.6"/><circle cx="200.3" cy="585.02" r="1.86" fill="#8a92b2" opacity="0.6"/></g>
<g filter="url(#b0)" opacity="0.9"><ellipse cx="225.6" cy="584.1" rx="6.49" ry="6.49" fill="#eadbd6" opacity="0.8"/><ellipse cx="225.6" cy="584.1" rx="5.22" ry="5.22" fill="#a88a98" opacity="0.95"/><circle cx="226.17" cy="584.23" r="2.68" fill="#6e5868" opacity="0.6"/><circle cx="224.95" cy="582.06" r="1.94" fill="#6e5868" opacity="0.6"/><circle cx="224.72" cy="583.09" r="2.53" fill="#6e5868" opacity="0.6"/></g>
<g filter="url(#b0)" opacity="0.9"><ellipse cx="189.7" cy="606.2" rx="6.49" ry="6.49" fill="#eadbd6" opacity="0.8"/><ellipse cx="189.7" cy="606.2" rx="5.22" ry="5.22" fill="#a88a98" opacity="0.95"/><circle cx="188.78" cy="608.2" r="1.99" fill="#6e5868" opacity="0.6"/><circle cx="188.01" cy="605.7" r="2.67" fill="#6e5868" opacity="0.6"/><circle cx="189.56" cy="604.49" r="2.58" fill="#6e5868" opacity="0.6"/></g>
<g filter="url(#b0)" opacity="0.9"><ellipse cx="176" cy="612.2" rx="5.9" ry="5.9" fill="#e2e6f0" opacity="0.8"/><ellipse cx="176" cy="612.2" rx="4.75" ry="4.75" fill="#aab3cf" opacity="0.95"/><circle cx="176.88" cy="611.67" r="2.26" fill="#8a92b2" opacity="0.6"/><circle cx="177.46" cy="611.14" r="2.06" fill="#8a92b2" opacity="0.6"/><circle cx="176.45" cy="610.46" r="2.18" fill="#8a92b2" opacity="0.6"/></g>
<g filter="url(#b0)" opacity="0.9"><ellipse cx="186.4" cy="617.3" rx="5.9" ry="5.9" fill="#eadbd6" opacity="0.8"/><ellipse cx="186.4" cy="617.3" rx="4.75" ry="4.75" fill="#a88a98" opacity="0.95"/><circle cx="185.64" cy="616.54" r="2.19" fill="#6e5868" opacity="0.6"/><circle cx="185.92" cy="616.91" r="2.23" fill="#6e5868" opacity="0.6"/><circle cx="188.22" cy="617.22" r="2.3" fill="#6e5868" opacity="0.6"/></g>
<g filter="url(#b0)" opacity="0.9"><ellipse cx="198.6" cy="621" rx="5.9" ry="5.9" fill="#e2e6f0" opacity="0.8"/><ellipse cx="198.6" cy="621" rx="4.75" ry="4.75" fill="#aab3cf" opacity="0.95"/><circle cx="197.38" cy="622.04" r="2.19" fill="#8a92b2" opacity="0.6"/><circle cx="196.96" cy="621.64" r="1.81" fill="#8a92b2" opacity="0.6"/><circle cx="198.6" cy="620.46" r="2.2" fill="#8a92b2" opacity="0.6"/></g>
<g filter="url(#b0)" opacity="0.9"><ellipse cx="213" cy="624" rx="5.9" ry="5.9" fill="#e2e6f0" opacity="0.8"/><ellipse cx="213" cy="624" rx="4.75" ry="4.75" fill="#aab3cf" opacity="0.95"/><circle cx="212.16" cy="624.1" r="2.27" fill="#8a92b2" opacity="0.6"/><circle cx="211.58" cy="624.03" r="2.44" fill="#8a92b2" opacity="0.6"/><circle cx="212.98" cy="624.52" r="1.98" fill="#8a92b2" opacity="0.6"/></g>
<g filter="url(#b0)" opacity="0.9"><ellipse cx="185.3" cy="634.3" rx="6.49" ry="6.49" fill="#f4dccf" opacity="0.8"/><ellipse cx="185.3" cy="634.3" rx="5.22" ry="5.22" fill="#dca08a" opacity="0.95"/><circle cx="184.91" cy="633.51" r="2.06" fill="#a2665e" opacity="0.6"/><circle cx="186.66" cy="633.38" r="2.29" fill="#a2665e" opacity="0.6"/><circle cx="186.14" cy="633.61" r="2.47" fill="#a2665e" opacity="0.6"/></g>
<g filter="url(#b0)" opacity="0.9"><ellipse cx="207.4" cy="633.2" rx="7.08" ry="7.08" fill="#eadbd6" opacity="0.8"/><ellipse cx="207.4" cy="633.2" rx="5.7" ry="5.7" fill="#a88a98" opacity="0.95"/><circle cx="207.84" cy="634.5" r="2.83" fill="#6e5868" opacity="0.6"/><circle cx="209.27" cy="632.07" r="2.45" fill="#6e5868" opacity="0.6"/><circle cx="206.39" cy="632.62" r="2.22" fill="#6e5868" opacity="0.6"/></g>
<g filter="url(#b0)" opacity="0.9"><ellipse cx="137" cy="634.3" rx="3.3" ry="3.3" fill="#f4dccf" opacity="0.8"/><ellipse cx="137" cy="634.3" rx="2.66" ry="2.66" fill="#dca08a" opacity="0.95"/><circle cx="136.02" cy="634.32" r="1.34" fill="#a2665e" opacity="0.6"/><circle cx="136.74" cy="633.25" r="1.1" fill="#a2665e" opacity="0.6"/><circle cx="137.32" cy="634.88" r="1.1" fill="#a2665e" opacity="0.6"/></g>
<g filter="url(#b0)" opacity="1"><ellipse cx="257" cy="585" rx="9.44" ry="9.44" fill="#f0d2c0" opacity="0.8"/><ellipse cx="257" cy="585" rx="7.6" ry="7.6" fill="#cc8a70" opacity="0.95"/><circle cx="257.4" cy="586.75" r="3.55" fill="#86585a" opacity="0.6"/><circle cx="255.44" cy="585.06" r="3.81" fill="#86585a" opacity="0.6"/><circle cx="258.87" cy="584.78" r="2.89" fill="#86585a" opacity="0.6"/></g>
<g filter="url(#b0)" opacity="1"><ellipse cx="258" cy="601.3" rx="8.85" ry="8.85" fill="#f0d2c0" opacity="0.8"/><ellipse cx="258" cy="601.3" rx="7.12" ry="7.12" fill="#cc8a70" opacity="0.95"/><circle cx="260.66" cy="601.83" r="2.67" fill="#86585a" opacity="0.6"/><circle cx="257.47" cy="599.34" r="2.97" fill="#86585a" opacity="0.6"/><circle cx="258.2" cy="600.53" r="2.78" fill="#86585a" opacity="0.6"/></g>
<g filter="url(#b0)" opacity="1"><ellipse cx="287" cy="575.5" rx="7.67" ry="7.67" fill="#f0d2c0" opacity="0.8"/><ellipse cx="287" cy="575.5" rx="6.17" ry="6.17" fill="#cc8a70" opacity="0.95"/><circle cx="286.33" cy="575.7" r="3.08" fill="#86585a" opacity="0.6"/><circle cx="287.07" cy="576.42" r="2.32" fill="#86585a" opacity="0.6"/><circle cx="285.95" cy="574.4" r="2.89" fill="#86585a" opacity="0.6"/></g>
<g filter="url(#b0)" opacity="1"><ellipse cx="337" cy="578.8" rx="10.03" ry="10.03" fill="#f0d2c0" opacity="0.8"/><ellipse cx="337" cy="578.8" rx="8.07" ry="8.07" fill="#cc8a70" opacity="0.95"/><circle cx="335.36" cy="576.4" r="4.2" fill="#86585a" opacity="0.6"/><circle cx="336.45" cy="577.56" r="3.58" fill="#86585a" opacity="0.6"/><circle cx="337.38" cy="579.59" r="3.58" fill="#86585a" opacity="0.6"/></g>
<g filter="url(#b0)" opacity="1"><ellipse cx="318.8" cy="600" rx="8.26" ry="8.26" fill="#f0d2c0" opacity="0.8"/><ellipse cx="318.8" cy="600" rx="6.65" ry="6.65" fill="#cc8a70" opacity="0.95"/><circle cx="318.56" cy="598.95" r="2.74" fill="#86585a" opacity="0.6"/><circle cx="317.58" cy="601.79" r="3" fill="#86585a" opacity="0.6"/><circle cx="317.08" cy="598.5" r="2.86" fill="#86585a" opacity="0.6"/></g>
<g filter="url(#b0)" opacity="1"><ellipse cx="342" cy="606.3" rx="8.26" ry="8.26" fill="#f0d2c0" opacity="0.8"/><ellipse cx="342" cy="606.3" rx="6.65" ry="6.65" fill="#cc8a70" opacity="0.95"/><circle cx="342.67" cy="603.79" r="2.54" fill="#86585a" opacity="0.6"/><circle cx="344.02" cy="605.38" r="2.59" fill="#86585a" opacity="0.6"/><circle cx="340.07" cy="606.88" r="3.41" fill="#86585a" opacity="0.6"/></g>
<g filter="url(#b0)" opacity="1"><ellipse cx="318.8" cy="616.3" rx="8.26" ry="8.26" fill="#f0d2c0" opacity="0.8"/><ellipse cx="318.8" cy="616.3" rx="6.65" ry="6.65" fill="#cc8a70" opacity="0.95"/><circle cx="317.45" cy="617.63" r="3.37" fill="#86585a" opacity="0.6"/><circle cx="319.57" cy="613.73" r="2.94" fill="#86585a" opacity="0.6"/><circle cx="318.14" cy="615.38" r="3.21" fill="#86585a" opacity="0.6"/></g>
<g filter="url(#b0)"><ellipse cx="30.6" cy="710" rx="4.95" ry="4.5" fill="#d8726e" stroke="#a82828" stroke-width="1.75"/><circle cx="31.1" cy="709.7" r="1.75" fill="#f2b4b0"/></g>
<g filter="url(#b0)"><ellipse cx="43.4" cy="705.2" rx="4.26" ry="3.87" fill="#d8726e" stroke="#a82828" stroke-width="1.5"/><circle cx="43.9" cy="704.9" r="1.5" fill="#f2b4b0"/></g>
<g filter="url(#b0)"><ellipse cx="66" cy="718.2" rx="5.45" ry="4.95" fill="#d8726e" stroke="#a82828" stroke-width="1.92"/><circle cx="66.5" cy="717.9" r="1.92" fill="#f2b4b0"/></g>
<g filter="url(#b0)"><ellipse cx="32.3" cy="726.8" rx="4.95" ry="4.5" fill="#d8726e" stroke="#a82828" stroke-width="1.75"/><circle cx="32.8" cy="726.5" r="1.75" fill="#f2b4b0"/></g>
<g filter="url(#b0)"><ellipse cx="105.1" cy="738.8" rx="5.45" ry="4.95" fill="#d8726e" stroke="#a82828" stroke-width="1.92"/><circle cx="105.6" cy="738.5" r="1.92" fill="#f2b4b0"/></g>
<g filter="url(#b0)"><ellipse cx="116.4" cy="736.4" rx="4.95" ry="4.5" fill="#d8726e" stroke="#a82828" stroke-width="1.75"/><circle cx="116.9" cy="736.1" r="1.75" fill="#f2b4b0"/></g>
<g filter="url(#b0)"><ellipse cx="72.2" cy="755" rx="4.95" ry="4.5" fill="#d8726e" stroke="#a82828" stroke-width="1.75"/><circle cx="72.7" cy="754.7" r="1.75" fill="#f2b4b0"/></g>
<g filter="url(#b0)"><ellipse cx="80.4" cy="748.5" rx="3.96" ry="3.6" fill="#d8726e" stroke="#a82828" stroke-width="1.4"/><circle cx="80.9" cy="748.2" r="1.4" fill="#f2b4b0"/></g>
<g filter="url(#b0)"><circle cx="157.8" cy="753.6" r="2.8" fill="#d6cfea" stroke="#b2a6d6" stroke-width="0.99"/></g>
<g filter="url(#b0)"><circle cx="164" cy="748.5" r="2.8" fill="#d6cfea" stroke="#b2a6d6" stroke-width="0.99"/></g>
<g filter="url(#b0)"><circle cx="170.2" cy="750.8" r="2.8" fill="#d6cfea" stroke="#b2a6d6" stroke-width="0.99"/></g>
<g filter="url(#b0)"><circle cx="177.2" cy="747" r="2.8" fill="#d6cfea" stroke="#b2a6d6" stroke-width="0.99"/></g>
<g filter="url(#b0)"><circle cx="179.9" cy="736.4" r="2.8" fill="#d6cfea" stroke="#b2a6d6" stroke-width="0.99"/></g>
<g filter="url(#b0)"><circle cx="182.1" cy="743" r="2.8" fill="#d6cfea" stroke="#b2a6d6" stroke-width="0.99"/></g>
<g filter="url(#b0)"><circle cx="189.4" cy="736.4" r="2.8" fill="#d6cfea" stroke="#b2a6d6" stroke-width="0.99"/></g>
<g filter="url(#b0)"><circle cx="191" cy="730.8" r="2.8" fill="#d6cfea" stroke="#b2a6d6" stroke-width="0.99"/></g>
<g filter="url(#b0)"><circle cx="193.2" cy="740.8" r="2.8" fill="#d6cfea" stroke="#b2a6d6" stroke-width="0.99"/></g>
<g filter="url(#b0)"><circle cx="197.2" cy="726.4" r="2.8" fill="#d6cfea" stroke="#b2a6d6" stroke-width="0.99"/></g>
<g filter="url(#b0)"><circle cx="198.3" cy="733" r="2.8" fill="#d6cfea" stroke="#b2a6d6" stroke-width="0.99"/></g>
<g filter="url(#b0)"><circle cx="201.6" cy="738.6" r="2.8" fill="#d6cfea" stroke="#b2a6d6" stroke-width="0.99"/></g>
<g filter="url(#b0)"><circle cx="193.8" cy="746.3" r="2.8" fill="#d6cfea" stroke="#b2a6d6" stroke-width="0.99"/></g>
<g filter="url(#b0)"><circle cx="206" cy="716.5" r="2.8" fill="#d6cfea" stroke="#b2a6d6" stroke-width="0.99"/></g>
<g filter="url(#b0)"><circle cx="209.3" cy="711" r="2.8" fill="#d6cfea" stroke="#b2a6d6" stroke-width="0.99"/></g>
<g filter="url(#b0)"><circle cx="214.9" cy="714.2" r="2.8" fill="#d6cfea" stroke="#b2a6d6" stroke-width="0.99"/></g>
<g filter="url(#b0)"><circle cx="216" cy="706.5" r="2.8" fill="#d6cfea" stroke="#b2a6d6" stroke-width="0.99"/></g>
<g filter="url(#b0)"><circle cx="218.2" cy="692" r="2.8" fill="#d6cfea" stroke="#b2a6d6" stroke-width="0.99"/></g>
<g filter="url(#b0)"><circle cx="220.4" cy="696.5" r="2.8" fill="#d6cfea" stroke="#b2a6d6" stroke-width="0.99"/></g>
<g filter="url(#b0)"><circle cx="221.5" cy="680" r="2.8" fill="#d6cfea" stroke="#b2a6d6" stroke-width="0.99"/></g>
<g filter="url(#b0)"><circle cx="228.1" cy="691" r="2.8" fill="#d6cfea" stroke="#b2a6d6" stroke-width="0.99"/></g>
<g filter="url(#b0)"><circle cx="225.9" cy="677.7" r="2.8" fill="#d6cfea" stroke="#b2a6d6" stroke-width="0.99"/></g>
<g filter="url(#b0)"><circle cx="231.5" cy="681" r="2.8" fill="#d6cfea" stroke="#b2a6d6" stroke-width="0.99"/></g>
<g filter="url(#b0)"><circle cx="212" cy="721" r="2.8" fill="#d6cfea" stroke="#b2a6d6" stroke-width="0.99"/></g>
<g filter="url(#b0)"><circle cx="224" cy="700" r="2.8" fill="#d6cfea" stroke="#b2a6d6" stroke-width="0.99"/></g>
<g filter="url(#b0)"><circle cx="211.5" cy="701" r="2.98" fill="#cfaccb" stroke="#a87898" stroke-width="1.22"/></g>
<g filter="url(#b0)"><circle cx="225.9" cy="684.4" r="2.98" fill="#cfaccb" stroke="#a87898" stroke-width="1.22"/></g>
<g filter="url(#b0)"><circle cx="209" cy="708" r="2.98" fill="#cfaccb" stroke="#a87898" stroke-width="1.22"/></g>
<line x1="49.5" y1="636" x2="54.5" y2="636" stroke="#555" stroke-width="0.8" />
<line x1="149.5" y1="752" x2="154.5" y2="752" stroke="#555" stroke-width="0.8" />
<line x1="222.5" y1="637" x2="227.5" y2="637" stroke="#555" stroke-width="0.8" />
<line x1="324.5" y1="637" x2="329.5" y2="637" stroke="#555" stroke-width="0.8" />
<line x1="28.5" y1="749.5" x2="33.5" y2="749.5" stroke="#555" stroke-width="0.8" />
<rect x="23.55" y="562.05" width="105.7" height="80.4" fill="none" stroke="#000" stroke-width="2.7" />
<rect x="134.05" y="562.05" width="105.4" height="80.4" fill="none" stroke="#000" stroke-width="2.7" />
<rect x="245.15" y="562.05" width="106.5" height="80.4" fill="none" stroke="#000" stroke-width="2.7" />
<rect x="21.25" y="673.55" width="109.7" height="86.9" fill="none" stroke="#000" stroke-width="2.7" />
<rect x="136.15" y="673.55" width="108.5" height="86.9" fill="none" stroke="#000" stroke-width="2.7" />
<text x="261.5" y="669.9" font-size="17" font-weight="bold" class="s" text-anchor="start" fill="#000" >F</text>
<line x1="313.3" y1="658.6" x2="313.3" y2="808.5" stroke="#000" stroke-width="1.3" />
<line x1="312.6" y1="807.9" x2="503.5" y2="807.9" stroke="#000" stroke-width="1.3" />
<text x="312.6" y="810.8" font-size="8.6" class="s" text-anchor="end" fill="#111" textLength="4.6" lengthAdjust="spacingAndGlyphs" >0</text>
<text x="312.6" y="781.15" font-size="8.6" class="s" text-anchor="end" fill="#111" textLength="9.2" lengthAdjust="spacingAndGlyphs" >50</text>
<text x="312.6" y="751.5" font-size="8.6" class="s" text-anchor="end" fill="#111" textLength="13.8" lengthAdjust="spacingAndGlyphs" >100</text>
<text x="312.6" y="721.85" font-size="8.6" class="s" text-anchor="end" fill="#111" textLength="13.8" lengthAdjust="spacingAndGlyphs" >150</text>
<text x="312.6" y="692.2" font-size="8.6" class="s" text-anchor="end" fill="#111" textLength="13.8" lengthAdjust="spacingAndGlyphs" >200</text>
<text x="312.6" y="662.55" font-size="8.6" class="s" text-anchor="end" fill="#111" textLength="13.8" lengthAdjust="spacingAndGlyphs" >250</text>
<text x="315" y="816" font-size="8.6" class="s" text-anchor="middle" fill="#111" textLength="4.6" lengthAdjust="spacingAndGlyphs" >0</text>
<text x="341.8" y="816" font-size="8.6" class="s" text-anchor="middle" fill="#111" textLength="9.2" lengthAdjust="spacingAndGlyphs" >10</text>
<text x="368.6" y="816" font-size="8.6" class="s" text-anchor="middle" fill="#111" textLength="9.2" lengthAdjust="spacingAndGlyphs" >20</text>
<text x="395.4" y="816" font-size="8.6" class="s" text-anchor="middle" fill="#111" textLength="9.2" lengthAdjust="spacingAndGlyphs" >30</text>
<text x="422.2" y="816" font-size="8.6" class="s" text-anchor="middle" fill="#111" textLength="9.2" lengthAdjust="spacingAndGlyphs" >40</text>
<text x="449" y="816" font-size="8.6" class="s" text-anchor="middle" fill="#111" textLength="9.2" lengthAdjust="spacingAndGlyphs" >50</text>
<text x="475.8" y="816" font-size="8.6" class="s" text-anchor="middle" fill="#111" textLength="9.2" lengthAdjust="spacingAndGlyphs" >60</text>
<text x="502.6" y="816" font-size="8.6" class="s" text-anchor="middle" fill="#111" textLength="9.2" lengthAdjust="spacingAndGlyphs" >70</text>
<text transform="translate(294,761.1) rotate(-90)" x="0" y="0" font-size="11.5" text-anchor="start" fill="#000" textLength="63" lengthAdjust="spacingAndGlyphs" >HNP3 (ng/L)</text>
<text x="315.1" y="833" font-size="11" textLength="183.4" lengthAdjust="spacingAndGlyphs">CD16<tspan font-size="7.5" baseline-shift="4">+</tspan> and CD14<tspan font-size="7.5" baseline-shift="4">-</tspan>CD24<tspan font-size="7.5" baseline-shift="4">+</tspan> total (x 10<tspan font-size="7.5" baseline-shift="4">3</tspan>)</text>
<text x="435.1" y="678.8" font-size="9.2" class="s" text-anchor="start" fill="#111" textLength="84.5" lengthAdjust="spacingAndGlyphs" >y = 0.0017x + 24.212</text>
<text x="442.7" y="690.2" font-size="9.2" fill="#111" class="s" textLength="43.8" lengthAdjust="spacingAndGlyphs">R<tspan font-size="6" baseline-shift="3.5">2</tspan> = 0.2027</text>
<line x1="313.5" y1="793.2" x2="488.9" y2="724.3" stroke="#000" stroke-width="3" />
<circle cx="337.3" cy="695.3" r="2.6" fill="#000" />
<circle cx="371" cy="701" r="2.6" fill="#000" />
<circle cx="323.4" cy="721.7" r="2.6" fill="#000" />
<circle cx="331" cy="725.6" r="2.6" fill="#000" />
<circle cx="325.3" cy="748.2" r="2.6" fill="#000" />
<circle cx="421.4" cy="759.2" r="2.6" fill="#000" />
<circle cx="401.2" cy="778.2" r="2.6" fill="#000" />
<circle cx="488.8" cy="724.1" r="2.6" fill="#000" />
<circle cx="356.2" cy="783.4" r="2.6" fill="#000" />
<circle cx="317.3" cy="773.8" r="2.6" fill="#000" />
<circle cx="335" cy="768.5" r="2.6" fill="#000" />
<circle cx="342.2" cy="774.3" r="2.6" fill="#000" />
<circle cx="341.2" cy="778.5" r="2.6" fill="#000" />
<circle cx="359.6" cy="792.3" r="2.6" fill="#000" />
<circle cx="366.2" cy="791.2" r="2.6" fill="#000" />
<circle cx="368" cy="796.5" r="2.6" fill="#000" />
<circle cx="317.3" cy="784.2" r="2.6" fill="#000" />
<circle cx="320" cy="785.7" r="2.6" fill="#000" />
<circle cx="320.4" cy="789.2" r="2.6" fill="#000" />
<circle cx="312.7" cy="797" r="2.6" fill="#000" />
<circle cx="315.8" cy="799.2" r="2.6" fill="#000" />
<circle cx="318.8" cy="796.2" r="2.6" fill="#000" />
<circle cx="321.9" cy="797.7" r="2.6" fill="#000" />
<circle cx="325" cy="794.6" r="2.6" fill="#000" />
<circle cx="328" cy="799.2" r="2.6" fill="#000" />
<circle cx="329.6" cy="795.4" r="2.6" fill="#000" />
<circle cx="327.3" cy="801.5" r="2.6" fill="#000" />
<circle cx="332" cy="797.7" r="2.6" fill="#000" />
<circle cx="335.8" cy="798.9" r="2.6" fill="#000" />
<circle cx="335" cy="787.7" r="2.6" fill="#000" />
<circle cx="336.5" cy="790" r="2.6" fill="#000" />
<circle cx="338" cy="793" r="2.6" fill="#000" />
<circle cx="340.4" cy="795.4" r="2.6" fill="#000" />
<circle cx="330.4" cy="788.5" r="2.6" fill="#000" />
<circle cx="323.5" cy="791.5" r="2.6" fill="#000" />
<circle cx="316.5" cy="793.8" r="2.6" fill="#000" />
<circle cx="319" cy="801" r="2.6" fill="#000" />
<circle cx="323" cy="800" r="2.6" fill="#000" />
<circle cx="331" cy="801" r="2.6" fill="#000" />
<circle cx="334" cy="802" r="2.6" fill="#000" />
<circle cx="339" cy="800.5" r="2.6" fill="#000" />
<circle cx="312.8" cy="801" r="2.6" fill="#000" />
<circle cx="317" cy="803" r="2.6" fill="#000" />
<circle cx="326" cy="797" r="2.6" fill="#000" />
<circle cx="322" cy="794" r="2.6" fill="#000" />
</svg>
</body></html>
